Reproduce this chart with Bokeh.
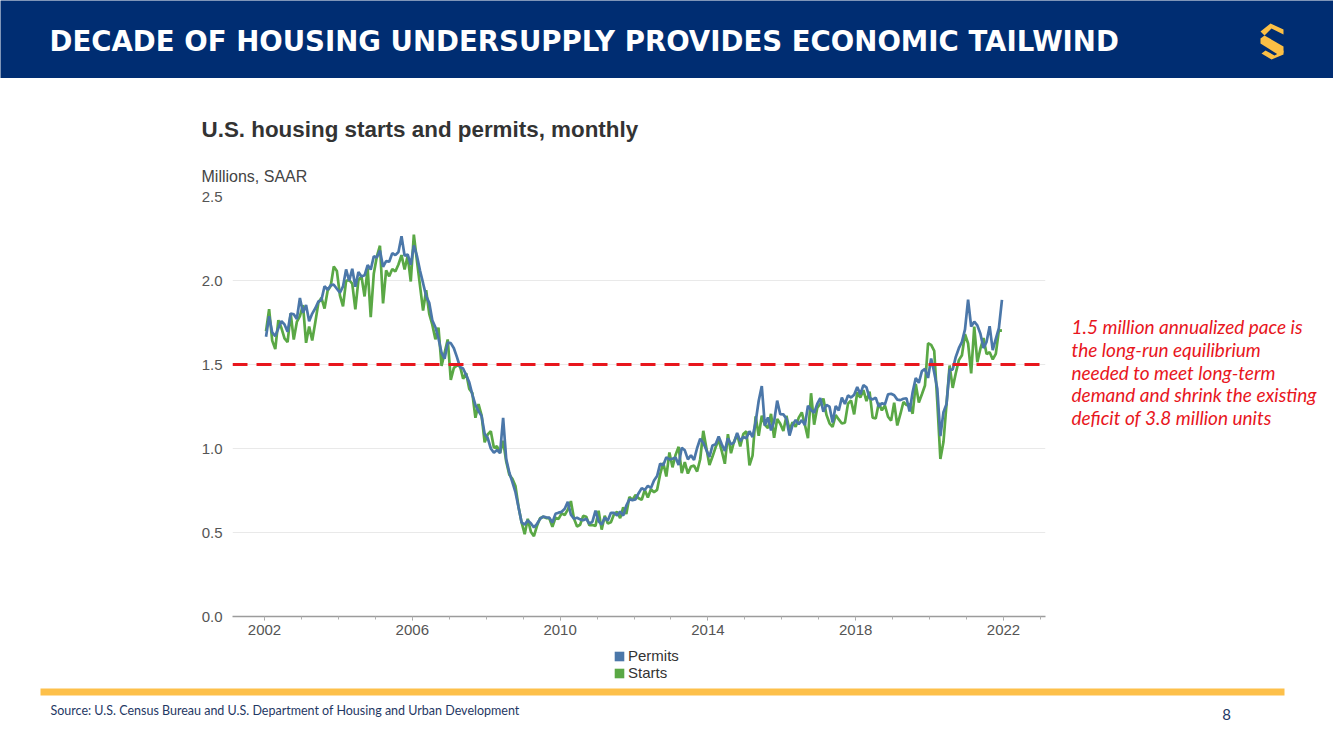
from bokeh.plotting import figure
from bokeh.models import (Range1d, FixedTicker, Label, Span, Legend, LegendItem,
                          PrintfTickFormatter, ColumnDataSource)
from bokeh.layouts import column, row
from bokeh.embed import file_html
from bokeh.resources import INLINE

# ---------------- data (thousands of units, SAAR), Jan 2002 .. Dec 2021 ----------------
first_year = 2002
last_year = 2021

permits_k = [
    1665, 1787, 1691, 1669, 1716, 1758, 1738, 1695, 1803, 1799, 1771, 1896,  # 2002
    1808, 1854, 1757, 1803, 1835, 1875, 1885, 1966, 1945, 1972, 1975, 1951,  # 2003
    1927, 1965, 2066, 1998, 2070, 1963, 2050, 2024, 2031, 2092, 2065, 2144,  # 2004
    2137, 2178, 2082, 2115, 2112, 2163, 2151, 2170, 2263, 2147, 2155, 2093,  # 2005
    2209, 2147, 2059, 1984, 1907, 1867, 1763, 1722, 1655, 1570, 1535, 1630,  # 2006
    1627, 1597, 1544, 1485, 1476, 1437, 1394, 1321, 1260, 1223, 1194, 1087,  # 2007
    1062, 1000, 975, 991, 973, 1183, 937, 857, 800, 740, 650, 560,           # 2008
    547, 572, 555, 530, 552, 581, 595, 590, 588, 560, 611, 618,              # 2009
    623, 641, 682, 606, 582, 588, 578, 573, 582, 552, 565, 630,              # 2010
    567, 547, 588, 571, 617, 617, 602, 625, 600, 660, 697, 693,              # 2011
    697, 734, 764, 753, 778, 765, 809, 836, 910, 900, 948, 935,              # 2012
    939, 947, 902, 1005, 989, 935, 960, 932, 1003, 1058, 1034, 991,          # 2013
    950, 1018, 1025, 1072, 1025, 986, 1060, 1025, 1036, 1093, 1044, 1069,    # 2014
    1061, 1103, 1068, 1158, 1284, 1372, 1136, 1185, 1108, 1161, 1285, 1204,  # 2015
    1203, 1177, 1077, 1139, 1170, 1145, 1169, 1139, 1254, 1229, 1212, 1265,  # 2016
    1300, 1219, 1260, 1249, 1155, 1253, 1227, 1303, 1265, 1316, 1303, 1320,  # 2017
    1366, 1323, 1377, 1364, 1301, 1292, 1303, 1249, 1270, 1263, 1322, 1326,  # 2018
    1317, 1291, 1288, 1296, 1299, 1220, 1336, 1419, 1391, 1461, 1474, 1420,  # 2019
    1536, 1452, 1356, 1074, 1216, 1265, 1469, 1470, 1545, 1597, 1635, 1709,  # 2020
    1886, 1726, 1755, 1733, 1683, 1598, 1635, 1728, 1586, 1653, 1717, 1885,  # 2021
]

starts_k = [
    1698, 1829, 1642, 1592, 1764, 1717, 1655, 1633, 1804, 1648, 1753, 1788,  # 2002
    1853, 1629, 1726, 1643, 1751, 1867, 1897, 1833, 1939, 1967, 2083, 2057,  # 2003
    1911, 1846, 1998, 2003, 1981, 1828, 2002, 2024, 1905, 2072, 1782, 2042,  # 2004
    2144, 2207, 1864, 2061, 2025, 2068, 2054, 2095, 2151, 2065, 2147, 1994,  # 2005
    2273, 2119, 1969, 1821, 1942, 1802, 1737, 1650, 1720, 1491, 1570, 1649,  # 2006
    1409, 1480, 1495, 1490, 1415, 1448, 1354, 1330, 1183, 1264, 1197, 1037,  # 2007
    1084, 1103, 1005, 1013, 973, 1046, 923, 844, 820, 777, 652, 560,         # 2008
    490, 582, 505, 478, 540, 585, 594, 586, 585, 534, 588, 581,              # 2009
    614, 604, 636, 687, 583, 536, 546, 599, 594, 543, 545, 539,              # 2010
    630, 517, 600, 554, 561, 608, 623, 585, 650, 610, 711, 694,              # 2011
    723, 704, 695, 753, 708, 757, 740, 754, 847, 915, 833, 976,              # 2012
    888, 962, 1010, 854, 919, 851, 893, 898, 863, 936, 1105, 1003,           # 2013
    902, 952, 1007, 1052, 985, 909, 1085, 972, 1042, 1084, 1012, 1086,       # 2014
    1102, 899, 958, 1192, 1075, 1195, 1141, 1121, 1206, 1064, 1176, 1147,    # 2015
    1104, 1194, 1110, 1157, 1129, 1184, 1215, 1141, 1062, 1329, 1142, 1241,  # 2016
    1266, 1297, 1201, 1150, 1128, 1199, 1173, 1149, 1154, 1267, 1286, 1203,  # 2017
    1335, 1303, 1347, 1282, 1339, 1184, 1179, 1270, 1227, 1256, 1189, 1166,  # 2018
    1273, 1137, 1204, 1277, 1258, 1265, 1207, 1384, 1274, 1323, 1375, 1626,  # 2019
    1617, 1581, 1277, 938, 1038, 1265, 1494, 1361, 1448, 1526, 1555, 1680,   # 2020
    1625, 1447, 1725, 1514, 1594, 1657, 1562, 1573, 1530, 1563, 1703, 1702,  # 2021
]

x_ticks = [2002, 2006, 2010, 2014, 2018, 2022]
y_ticks = [0.0, 0.5, 1.0, 1.5, 2.0, 2.5]
equilibrium = 1.5

header_text = "DECADE OF HOUSING UNDERSUPPLY PROVIDES ECONOMIC TAILWIND"
chart_title = "U.S. housing starts and permits, monthly"
units_text = "Millions, SAAR"
note_lines = [
    "1.5 million annualized pace is",
    "the long-run equilibrium",
    "needed to meet long-term",
    "demand and shrink the existing",
    "deficit of 3.8 million units",
]
series_names = ["Permits", "Starts"]
source_text = "Source: U.S. Census Bureau and U.S. Department of Housing and Urban Development"
page_number = "8"

# monthly dates (mid-month) and values in millions
n_months = (last_year - first_year + 1) * 12
dates = [first_year + (i + 0.5) / 12 for i in range(n_months)]
permits = [v / 1000 for v in permits_k]
starts = [v / 1000 for v in starts_k]

NAVY = "#002d72"
BLUE = "#4b77a9"
GREEN = "#5aa845"
RED = "#e8161d"
YELLOW = "#fdc04a"
W, H = 1333, 749


def no_align(fig):
    try:
        fig.frame_align = False
    except Exception:
        pass
    return fig


def panel(x0, x1, y0, y1, bg="white"):
    """A figure whose frame fills it, with page-pixel coordinates (y down)."""
    f = figure(width=x1 - x0, height=y1 - y0, x_range=Range1d(x0, x1), y_range=Range1d(y1, y0),
               output_backend="svg", toolbar_location=None, title=None,
               x_axis_location=None, y_axis_location=None, min_border=0,
               background_fill_color=bg, border_fill_color=bg, outline_line_color=None)
    f.grid.visible = False
    return no_align(f)


# ---------------- header ----------------
hdr = panel(0, W, 0, 78, NAVY)
hdr.add_layout(Label(x=49, y=41, text=header_text, text_color="white",
                     text_font="DejaVu Sans", text_font_style="bold",
                     text_font_size="27.6px", text_baseline="middle", text_align="left"))
logo_xs = [[1260, 1270, 1283, 1283, 1271, 1264],
           [1260, 1264, 1283, 1283, 1279, 1260],
           [1261, 1265, 1274, 1283, 1283, 1271]]
logo_ys = [[31, 23, 29, 34, 28, 35],
           [38, 35, 46, 52, 55, 43],
           [53, 50, 55, 50, 54, 59]]
hdr.patches(logo_xs, logo_ys, fill_color="#fbbf45", line_color=None)

# ---------------- chart title strip ----------------
top = panel(0, W, 78, 186)
top.add_layout(Label(x=201, y=129, text=chart_title, text_font="Liberation Sans",
                     text_font_style="bold", text_font_size="22.4px", text_color="#333333",
                     text_baseline="middle"))
top.add_layout(Label(x=201, y=176, text=units_text, text_font="Liberation Sans",
                     text_font_size="16px", text_color="#444444", text_baseline="middle"))

# ---------------- chart ----------------
CX0, CX1, CY0, CY1 = 0, 1062, 186, 645       # chart figure on the page
FL, FR, FT, FB = 232, 1045, 196, 616          # frame edges on the page
X0 = 2002 - (264 - FL) / 36.95
X1 = 2022 + (FR - 1003) / 36.95

p = figure(width=CX1 - CX0, height=CY1 - CY0, x_range=Range1d(X0, X1), y_range=Range1d(0, 2.5),
           output_backend="svg", toolbar_location=None, title=None,
           min_border_left=FL - CX0, min_border_right=CX1 - FR,
           min_border_top=FT - CY0, min_border_bottom=CY1 - FB,
           background_fill_color="white", border_fill_color="white",
           outline_line_color=None)
no_align(p)

src = ColumnDataSource(dict(date=dates, permits=permits, starts=starts))
p.line("date", "starts", source=src, line_color=GREEN, line_width=2.7)
p.line("date", "permits", source=src, line_color=BLUE, line_width=2.7)

p.add_layout(Span(location=equilibrium, dimension="width", line_color=RED,
                  line_width=3, line_dash="15 9"))

p.xgrid.visible = False
p.ygrid.ticker = FixedTicker(ticks=y_ticks)
p.ygrid.grid_line_color = "#e9e9e9"
p.ygrid.grid_line_width = 1

xa = p.xaxis[0]
xa.ticker = FixedTicker(ticks=x_ticks, minor_ticks=list(range(2001, 2024)))
xa.axis_line_color = "#9c9c9c"
xa.axis_line_width = 1.5
xa.major_tick_line_color = "#9c9c9c"
xa.minor_tick_line_color = "#b0b0b0"
xa.major_tick_in = 0
xa.major_tick_out = 4
xa.minor_tick_in = 0
xa.minor_tick_out = 3
xa.major_label_standoff = 4
xa.major_label_text_font = "Liberation Sans"
xa.major_label_text_font_size = "15px"
xa.major_label_text_color = "#555555"

ya = p.yaxis[0]
ya.ticker = FixedTicker(ticks=y_ticks)
ya.formatter = PrintfTickFormatter(format="%.1f")
ya.axis_line_color = None
ya.major_tick_line_color = None
ya.minor_tick_line_color = None
ya.major_label_standoff = 4
ya.major_label_text_font = "Liberation Sans"
ya.major_label_text_font_size = "15px"
ya.major_label_text_color = "#555555"

# ---------------- note on the right ----------------
note = panel(CX1, W, CY0, CY1)
for i, line in enumerate(note_lines):
    note.add_layout(Label(x=1071, y=326 + i * 22.8, text=line, text_font="Lato",
                          text_font_style="italic", text_font_size="19px", text_color=RED,
                          text_baseline="middle"))

# ---------------- footer: legend, rule, source ----------------
ftr = panel(0, W, CY1, H)
# legend swatches: one off-frame box each, so the legend shows filled squares
r_perm = ftr.quad(left=[-120], right=[-110], top=[-120], bottom=[-110],
                  fill_color=BLUE, line_color=None)
r_start = ftr.quad(left=[-120], right=[-110], top=[-120], bottom=[-110],
                   fill_color=GREEN, line_color=None)
legend = Legend(items=[LegendItem(label=series_names[0], renderers=[r_perm]),
                       LegendItem(label=series_names[1], renderers=[r_start])],
                location=(613, 68), orientation="vertical",
                padding=0, margin=0, spacing=0, glyph_width=12, glyph_height=12,
                label_height=17, label_standoff=3, border_line_color=None,
                background_fill_alpha=0, label_text_font="Liberation Sans",
                label_text_font_size="15px", label_text_color="#333333")
ftr.add_layout(legend)
ftr.quad(left=[40], right=[1284], top=[688], bottom=[695], fill_color=YELLOW, line_color=None)
ftr.add_layout(Label(x=50, y=710, text=source_text, text_font="Lato", text_font_size="12.5px",
                     text_color="#1f3864", text_baseline="middle"))
ftr.add_layout(Label(x=1226, y=714, text=page_number, text_font="Lato", text_font_size="15px",
                     text_color="#1f3864", text_baseline="middle", text_align="center"))

page = column(hdr, top, row(p, note, spacing=0), ftr, spacing=0)
open("out.html", "w").write(file_html(page, INLINE))
